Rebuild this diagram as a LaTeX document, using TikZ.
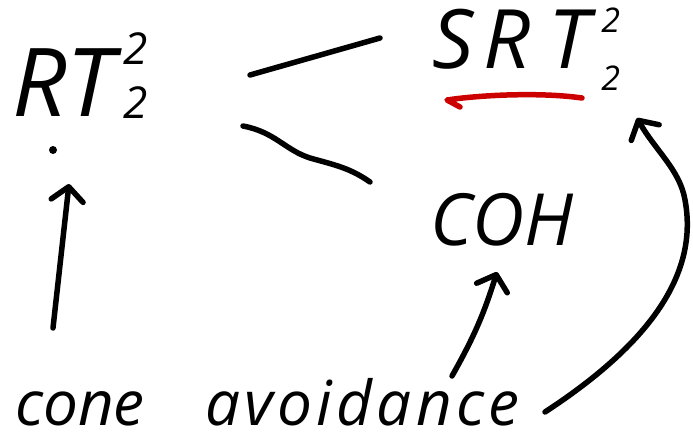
\documentclass[tikz,border=0pt]{standalone}
\usepackage{fontspec}
\setmainfont{Open Sans}
\usetikzlibrary{arrows.meta, positioning, calc}
\definecolor{penred}{RGB}{205, 0, 0}
% stacked index pair: size, raise of upper 2, raise of lower 2
\newcommand{\twotwo}[3]{{\fontsize{#1}{#1}\selectfont\rlap{\raisebox{#2}{2}}\raisebox{#3}{2}}}

\begin{document}
\begin{tikzpicture}[x=1pt, y=-1pt,
  hand/.style={inner sep=0pt, anchor=base west},
  link/.style={line width=5.5pt, line cap=round, line join=round},
  >={Straight Barb[length=14pt,width=32pt,round]}
]
  \useasboundingbox (0,0) rectangle (693,442);

  % principles
  \node[hand, font=\itshape\fontsize{95pt}{95pt}\selectfont] (rt) at (12,116)
    {RT\hspace{10pt}\twotwo{44pt}{52pt}{-2pt}};
  \node[hand, font=\itshape\fontsize{82pt}{82pt}\selectfont] (srt) at (432,68)
    {S\hspace{10pt}R\hspace{18pt}T\hspace{12pt}\twotwo{34pt}{36pt}{-22pt}};
  \node[hand, font=\itshape\fontsize{72pt}{72pt}\selectfont] (coh) at (430,245) {COH};

  % method
  \node[hand, font=\itshape\fontsize{62pt}{62pt}\selectfont] (cone)  at (15,425)  {cone};
  \node[hand, font=\itshape\fontsize{62pt}{62pt}\selectfont\addfontfeature{LetterSpace=7}]
    (avoid) at (205,425) {avoidance};

  \fill ([shift={(41,34)}]rt.base west) circle (4pt);

  % decomposition
  \draw[link] ([shift={(238,-41)}]rt.base west) -- ([shift={(-52,-30)}]srt.base west);
  \draw[link] ([shift={(231,10)}]rt.base west)
    .. controls +(32,6) and +(-25,-8) .. ([shift={(-120,-87)}]coh.base west)
    .. controls +(25,7) and +(-20,-14) .. ([shift={(-60,-63)}]coh.base west);
  \draw[link, penred] ([shift={(28,39)}]srt.base west) -- ([shift={(15,32)}]srt.base west)
    .. controls +(33,-5) and +(-42,-6) .. ([shift={(150,30)}]srt.base west);

  % cone avoidance gives
  \draw[link,->] ([shift={(38,-97)}]cone.base west) -- ([shift={(57,68)}]rt.base west);
  \draw[link,->] ([shift={(247,-49)}]avoid.base west) to[bend right=6]
    ([shift={(67,27)}]coh.base west);
  \draw[link,->] ([shift={(340,-13)}]avoid.base west)
    .. controls +(95,-62) and +(15,80) .. ([shift={(253,132)}]srt.base west)
    .. controls +(-5,-30) and +(18,32) .. ([shift={(205,50)}]srt.base west);
\end{tikzpicture}
\end{document}
